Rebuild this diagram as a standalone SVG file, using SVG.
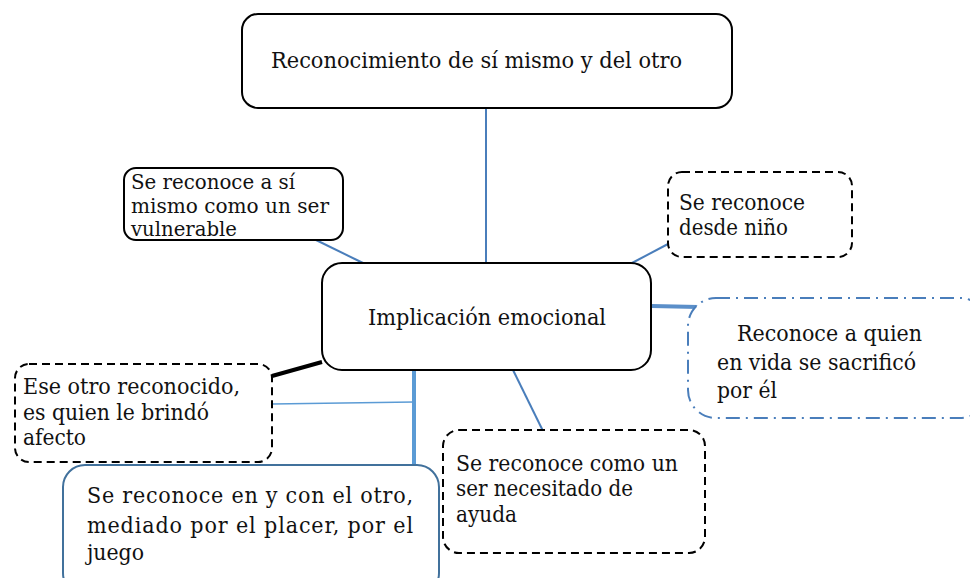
<svg xmlns="http://www.w3.org/2000/svg" width="970" height="578" viewBox="0 0 970 578">
<style>
.t{font-family:'DejaVu Serif Condensed','DejaVu Serif','Liberation Serif',serif;font-size:23px;fill:#111}
.s{font-size:20px}
.solid{fill:#fff;stroke:#000;stroke-width:2}
.dash{fill:#fff;stroke:#000;stroke-width:2;stroke-dasharray:8 5}
.dashdot{fill:#fff;stroke:#4a7ebb;stroke-width:2;stroke-dasharray:14 6 2 6}
.blue{fill:#fff;stroke:#41719c;stroke-width:2}
.ln{stroke:#4a7ebb;stroke-width:2;fill:none}
</style>
<rect width="970" height="578" fill="#fff"/>
<g id="connectors">
<line class="ln" x1="486" y1="107" x2="486" y2="263"/>
<line class="ln" x1="316" y1="240" x2="363" y2="263"/>
<line class="ln" x1="668" y1="244" x2="632" y2="263"/>
<line x1="652" y1="306" x2="698" y2="307" stroke="#5b8fc9" stroke-width="4"/>
<line x1="272" y1="376" x2="322" y2="362" stroke="#000" stroke-width="4"/>
<line x1="272" y1="404" x2="414" y2="402" stroke="#5b9bd5" stroke-width="1.5"/>
<line x1="414" y1="368" x2="414" y2="465" stroke="#5b9bd5" stroke-width="4"/>
<line class="ln" x1="513" y1="370" x2="543" y2="431"/>
</g>
<g id="top">
<rect class="solid" x="242" y="14" width="490" height="94" rx="16"/>
<text class="t" x="271" y="68" textLength="411" lengthAdjust="spacingAndGlyphs">Reconocimiento de sí mismo y del otro</text>
</g>
<g id="center">
<rect class="solid" x="322" y="263" width="329" height="107" rx="20" stroke-width="2.5"/>
<text class="t" x="368" y="325" textLength="238" lengthAdjust="spacingAndGlyphs">Implicación emocional</text>
</g>
<g id="vulnerable">
<rect class="solid" x="124" y="168" width="219" height="72" rx="12"/>
<text class="t s" x="131" y="189" textLength="164" lengthAdjust="spacingAndGlyphs">Se reconoce a sí</text>
<text class="t s" x="131" y="212.5" textLength="198" lengthAdjust="spacingAndGlyphs">mismo como un ser</text>
<text class="t s" x="131" y="236" textLength="106" lengthAdjust="spacingAndGlyphs">vulnerable</text>
</g>
<g id="nino">
<rect class="dash" x="668" y="172" width="184" height="85" rx="14"/>
<text class="t" x="679" y="210" textLength="126" lengthAdjust="spacingAndGlyphs">Se reconoce</text>
<text class="t" x="679" y="235" textLength="109" lengthAdjust="spacingAndGlyphs">desde niño</text>
</g>
<g id="sacrifico">
<rect class="dashdot" x="688" y="298" width="300" height="120" rx="28"/>
<text class="t" x="737" y="341" textLength="185" lengthAdjust="spacingAndGlyphs">Reconoce a quien</text>
<text class="t" x="717" y="370" textLength="199" lengthAdjust="spacingAndGlyphs">en vida se sacrificó</text>
<text class="t" x="717" y="398" textLength="60" lengthAdjust="spacingAndGlyphs">por él</text>
</g>
<g id="afecto">
<rect class="dash" x="15" y="364" width="257" height="98" rx="14"/>
<text class="t" x="23" y="394" textLength="217" lengthAdjust="spacingAndGlyphs">Ese otro reconocido,</text>
<text class="t" x="23" y="420" textLength="186" lengthAdjust="spacingAndGlyphs">es quien le brindó</text>
<text class="t" x="23" y="445" textLength="63" lengthAdjust="spacingAndGlyphs">afecto</text>
</g>
<g id="juego">
<rect class="blue" x="63" y="465" width="376" height="130" rx="22"/>
<text class="t" x="87" y="503" textLength="326" lengthAdjust="spacing">Se reconoce en y con el otro,</text>
<text class="t" x="87" y="533" textLength="326" lengthAdjust="spacing">mediado por el placer, por el</text>
<text class="t" x="87" y="560" textLength="57" lengthAdjust="spacingAndGlyphs">juego</text>
</g>
<g id="ayuda">
<rect class="dash" x="443" y="430" width="262" height="123" rx="16"/>
<text class="t" x="456" y="471" textLength="222" lengthAdjust="spacingAndGlyphs">Se reconoce como un</text>
<text class="t" x="456" y="496" textLength="177" lengthAdjust="spacingAndGlyphs">ser necesitado de</text>
<text class="t" x="456" y="522" textLength="61" lengthAdjust="spacingAndGlyphs">ayuda</text>
</g>
</svg>
